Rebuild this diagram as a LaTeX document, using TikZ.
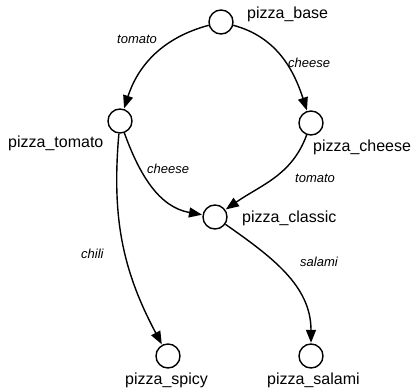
\documentclass[tikz,border=0pt]{standalone}
\usepackage{fontspec}
\setmainfont{Liberation Sans}
\usetikzlibrary{arrows.meta}
\begin{document}
\begin{tikzpicture}[x=1pt,y=-1pt,
  state/.style={circle,draw,line width=1.4pt,minimum size=24pt,inner sep=0pt},
  nlabel/.style={anchor=base west,inner sep=0pt,font=\fontsize{16}{19}\selectfont},
  elabel/.style={anchor=base west,inner sep=0pt,font=\fontsize{13}{15}\selectfont\itshape},
  edge/.style={-{Triangle[length=13pt,width=10pt]},line width=1.4pt,shorten >=0.5pt}]
\useasboundingbox (0,0) rectangle (415,388);
\node[state] (base) at (221,22) {};
\node[state] (tomato) at (120,121) {};
\node[state] (cheese) at (311,123) {};
\node[state] (classic) at (215,217) {};
\node[state] (spicy) at (168,356) {};
\node[state] (salami) at (311,356) {};
\node[nlabel] (lbase) at (247,18) {pizza\_base};
\node[nlabel] (ltomato) at (8,147) {pizza\_tomato};
\node[nlabel] (lcheese) at (313,151) {pizza\_cheese};
\node[nlabel] (lclassic) at (242,222) {pizza\_classic};
\node[nlabel] (lspicy) at (125,384) {pizza\_spicy};
\node[nlabel] (lsalami) at (267,384) {pizza\_salami};
\draw[edge] (base) to[out=195,in=72] (tomato);
\draw[edge] (base) to[out=-15,in=108] (cheese);
\draw[edge] (tomato) to[out=-70,in=170] (classic);
\draw[edge] (cheese) to[out=-110,in=35] (classic);
\draw[edge] (tomato) to[out=-95,in=118] (spicy);
\draw[edge] (classic) to[out=-35,in=90] (salami);
\node[elabel] (e1) at (117,43) {tomato};
\node[elabel] (e2) at (288,67) {cheese};
\node[elabel] (e3) at (147,173) {cheese};
\node[elabel] (e4) at (295,182) {tomato};
\node[elabel] (e5) at (81,258) {chili};
\node[elabel] (e6) at (300,266) {salami};
\end{tikzpicture}
\end{document}
